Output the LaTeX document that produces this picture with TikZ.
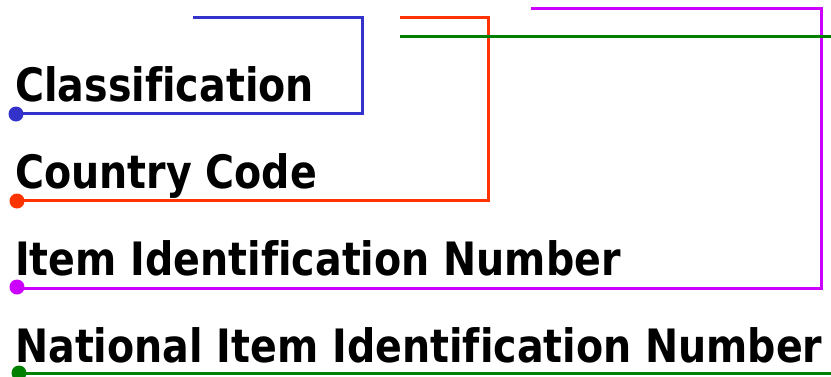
\documentclass[tikz,border=0pt]{standalone}
\usepackage{fontspec}
\newfontfamily\lblfont[FakeStretch=0.86,Ligatures=NoCommon]{DejaVu Sans}
\definecolor{cblue}{HTML}{3333CC}
\definecolor{cred}{HTML}{FF3300}
\definecolor{cmag}{HTML}{CC00FF}
\definecolor{cgreen}{HTML}{008000}
\begin{document}
\begin{tikzpicture}[x=1pt,y=-1pt,
  lbl/.style={anchor=base west,inner sep=0pt,font=\lblfont\bfseries\fontsize{46}{50}\selectfont},
  wire/.style={line width=3pt},
  dotc/.style={circle,inner sep=0pt,minimum size=15pt}]
\useasboundingbox (0,0) rectangle (831,376);
\node[lbl] (t1) at (15,101) {Classification};
\node[lbl] (t2) at (15,188) {Country Code};
\node[lbl] (t3) at (15,275) {Item Identification Number};
\node[lbl] (t4) at (15,362) {National Item Identification Number};
% blue
\node[dotc,fill=cblue] (d1) at (16,114) {};
\coordinate (b1) at (362,113.5);
\coordinate (b2) at (362,17);
\coordinate (e1) at (193,17);
\draw[wire,cblue] (d1.center |- b1) -- (b1) -- (b2) -- (e1);
% red
\node[dotc,fill=cred] (d2) at (17,201) {};
\coordinate (r1) at (488,200);
\coordinate (r2) at (488,17);
\coordinate (e2) at (400,17);
\draw[wire,cred] (d2.center |- r1) -- (r1) -- (r2) -- (e2);
% magenta
\node[dotc,fill=cmag] (d3) at (17,287) {};
\coordinate (m1) at (821,288);
\coordinate (m2) at (821,8);
\coordinate (e3) at (531,8);
\draw[wire,cmag] (d3.center |- m1) -- (m1) -- (m2) -- (e3);
% green
\node[dotc,fill=cgreen] (d4) at (19,373) {};
\coordinate (g1) at (831,373.5);
\coordinate (g2) at (831,36);
\coordinate (e4) at (400,36);
\draw[wire,cgreen] (d4.center |- g1) -- (g1);
\draw[wire,cgreen] (g2) -- (e4);
\end{tikzpicture}
\end{document}
